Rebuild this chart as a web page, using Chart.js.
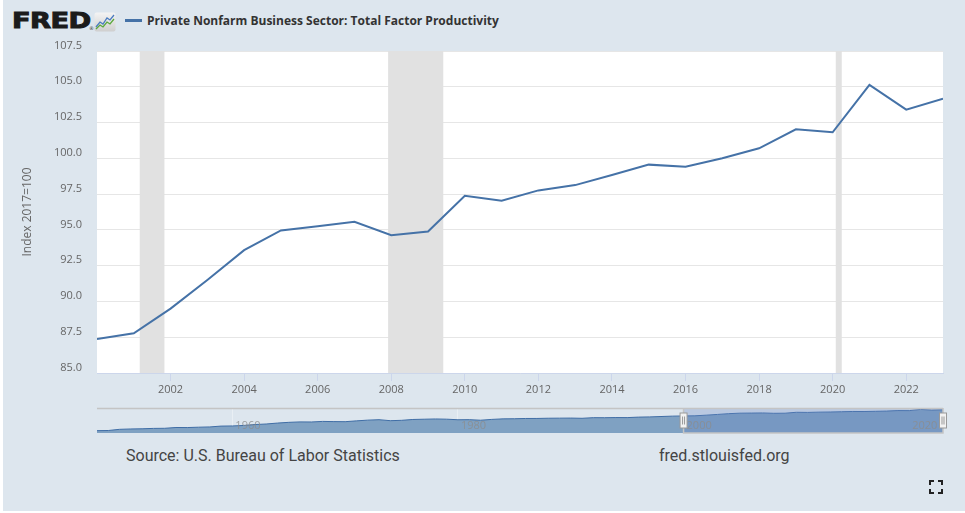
<!DOCTYPE html>
<html><head><meta charset="utf-8">
<script src="https://cdn.jsdelivr.net/npm/chart.js@4.4.0/dist/chart.umd.min.js"></script>
<style>
html,body{margin:0;padding:0;background:#fff;width:965px;height:513px;overflow:hidden;}
#bg{position:absolute;left:3px;top:0;width:962px;height:511px;background:#dde6ee;}
canvas{position:absolute;left:0;}
#main{top:0;}
#nav{top:400px;}
.txt{position:absolute;white-space:nowrap;}
#fred{left:12px;top:10px;font-family:"DejaVu Sans";font-weight:bold;font-size:22px;line-height:22px;color:#1b1b1b;-webkit-text-stroke:1px #1b1b1b;transform:scaleX(1.24);transform-origin:0 0;letter-spacing:-0.5px;}
#reg{left:89px;top:25px;font-family:"DejaVu Sans";font-size:5px;color:#333;}
#icon{position:absolute;left:94px;top:12px;}
#legline{position:absolute;left:125px;top:19px;width:17px;height:3px;background:#4572a7;}
#legtxt{left:147px;top:13px;font-family:"Open Sans";font-weight:bold;font-size:12px;line-height:16px;color:#333;}
#src{left:126px;top:446px;font-family:Roboto;font-size:16px;line-height:20px;color:#444;}
#site{left:659px;top:446px;font-family:Roboto;font-size:16px;line-height:20px;color:#444;}
#fs{position:absolute;left:929px;top:480px;}
</style></head>
<body>
<div id="bg"></div>
<div class="txt" id="fred">FRED</div>
<div class="txt" id="reg">®</div>
<svg id="icon" width="22" height="20" viewBox="0 0 22 20">
<defs><linearGradient id="g" x1="0" y1="0" x2="0" y2="1"><stop offset="0" stop-color="#f4f4f4"/><stop offset="1" stop-color="#cfcfcf"/></linearGradient></defs>
<rect x="0.5" y="0.5" width="21" height="19" rx="2" fill="url(#g)"/>
<polyline points="2,15 6,10 9,12 13,6 16,8 20,3" fill="none" stroke="#4a7cc0" stroke-width="1.3"/>
<polyline points="2,17 6,13 9,15 13,10 16,12 20,7" fill="none" stroke="#5aa83c" stroke-width="1.3"/>
</svg>
<div id="legline"></div>
<div class="txt" id="legtxt">Private Nonfarm Business Sector: Total Factor Productivity</div>
<canvas id="main" width="965" height="400"></canvas>
<canvas id="nav" width="965" height="40"></canvas>
<div class="txt" id="src">Source: U.S. Bureau of Labor Statistics</div>
<div class="txt" id="site">fred.stlouisfed.org</div>
<svg id="fs" width="14" height="14" viewBox="0 0 14 14">
<path d="M1,5 V1 H5 M9,1 H13 V5 M13,9 V13 H9 M5,13 H1 V9" fill="none" stroke="#222" stroke-width="2"/>
</svg>
<script>
// ---- data ----
const years = [2000,2001,2002,2003,2004,2005,2006,2007,2008,2009,2010,2011,2012,2013,2014,2015,2016,2017,2018,2019,2020,2021,2022,2023];
const tfp = [87.38,87.77,89.50,91.50,93.58,94.96,95.26,95.57,94.63,94.89,97.39,97.04,97.76,98.13,98.83,99.56,99.42,100.00,100.70,102.03,101.82,105.13,103.40,104.17];
const xTickYears = [2002,2004,2006,2008,2010,2012,2014,2016,2018,2020,2022];
const xTickLabels = ['2002','2004','2006','2008','2010','2012','2014','2016','2018','2020','2022'];
const yTickValues = [85,87.5,90,92.5,95,97.5,100,102.5,105,107.5];
const yTickLabels = ['85.0','87.5','90.0','92.5','95.0','97.5','100.0','102.5','105.0','107.5'];
const recessionStarts = [2001.162,2007.915,2020.085];
const recessionEnds = [2001.833,2009.414,2020.247];
const navHistYears = [1948,1949,1950,1951,1952,1953,1954,1955,1956,1957,1958,1959,1960,1961,1962,1963,1964,1965,1966,1967,1968,1969,1970,1971,1972,1973,1974,1975,1976,1977,1978,1979,1980,1981,1982,1983,1984,1985,1986,1987,1988,1989,1990,1991,1992,1993,1994,1995,1996,1997,1998,1999];
const navHistValues = [47.4,47.8,51.0,52.0,52.5,53.5,53.8,56.0,55.8,56.8,57.5,59.8,60.2,61.5,64.0,65.5,68.0,70.0,71.2,71.0,72.5,72.0,71.8,74.0,76.0,77.2,74.5,75.5,77.8,78.5,79.2,78.6,77.0,77.3,75.8,78.0,79.5,79.8,80.5,80.6,81.2,81.4,81.6,81.0,82.7,82.6,83.0,82.9,84.2,84.8,85.8,86.9];
const navTickYears = [1960,1980,2000,2020];
const navTickLabels = ['1960','1980','2000','2020'];
const selStart = 2000, selEnd = 2023;

// ---- main chart ----
const plotBg = {
  id:'plotBg',
  beforeDraw(c){
    const a=c.chartArea, ctx=c.ctx;
    ctx.save(); ctx.fillStyle='#ffffff';
    ctx.fillRect(a.left,a.top,a.right-a.left,a.bottom-a.top); ctx.restore();
  },
  beforeDatasetsDraw(c){
    const a=c.chartArea, ctx=c.ctx, xs=c.scales.x;
    ctx.save(); ctx.fillStyle='#e1e1e1';
    recessionStarts.forEach((s,i)=>{
      const x0=xs.getPixelForValue(s), x1=xs.getPixelForValue(recessionEnds[i]);
      ctx.fillRect(x0,a.top,x1-x0,a.bottom-a.top);
    });
    ctx.restore();
  }
};

new Chart(document.getElementById('main'), {
  type:'line',
  data:{datasets:[{data:years.map((y,i)=>({x:y,y:tfp[i]})),borderColor:'#4572a7',borderWidth:2,pointRadius:0,tension:0,fill:false}]},
  options:{
    responsive:false, animation:false, events:[],
    layout:{padding:{left:0,right:22,top:51,bottom:0}},
    plugins:{legend:{display:false},tooltip:{enabled:false}},
    scales:{
      x:{type:'linear',min:2000,max:2023,
        afterBuildTicks:s=>{s.ticks=xTickYears.map(v=>({value:v}));},
        afterFit:s=>{s.height=27;},
        ticks:{callback:(v,i)=>xTickLabels[i],font:{family:'Open Sans',size:11},color:'#666',padding:2,maxRotation:0,autoSkip:false},
        grid:{drawOnChartArea:false,drawTicks:true,tickLength:8,color:'#ccd6eb'},
        border:{display:true,color:'#ccd6eb'}},
      y:{min:85,max:107.5,
        afterBuildTicks:s=>{s.ticks=yTickValues.map(v=>({value:v}));},
        afterFit:s=>{s.width=97;},
        ticks:{callback:(v,i)=>yTickLabels[i],padding:15,labelOffset:-5.5,font:{family:'Open Sans',size:11},color:'#666'},
        grid:{color:'#e6e6e6',drawTicks:false},
        border:{display:false},
        title:{display:true,text:'Index 2017=100',font:{family:'Open Sans',size:12},color:'#666',padding:{top:20,bottom:0}}}
    }
  },
  plugins:[plotBg]
});

// ---- navigator ----
const navDeco = {
  id:'navDeco',
  afterDatasetsDraw(c){
    const a=c.chartArea, ctx=c.ctx, xs=c.scales.x;
    const x0=xs.getPixelForValue(selStart), x1=xs.getPixelForValue(selEnd);
    ctx.save();
    ctx.fillStyle='rgba(102,133,194,0.3)';
    ctx.fillRect(x0,a.top,x1-x0,a.bottom-a.top);
    ctx.restore();
  },
  afterDraw(c){
    const a=c.chartArea, ctx=c.ctx, xs=c.scales.x;
    const x0=xs.getPixelForValue(selStart), x1=xs.getPixelForValue(selEnd);
    ctx.save();
    // axis labels inside the navigator
    ctx.font='11px "Open Sans"'; ctx.fillStyle='rgba(140,140,140,0.8)';
    ctx.textAlign='left'; ctx.textBaseline='middle';
    navTickYears.forEach((v,i)=>{ ctx.fillText(navTickLabels[i], xs.getPixelForValue(v)+3, a.top+17.5); });
    // outline
    ctx.strokeStyle='#c4c4c4'; ctx.lineWidth=1.5;
    ctx.beginPath();
    ctx.moveTo(a.left,a.top+0.5); ctx.lineTo(a.right,a.top+0.5);
    ctx.moveTo(x0,a.top); ctx.lineTo(x0,a.bottom); ctx.lineTo(x1,a.bottom); ctx.lineTo(x1,a.top);
    ctx.stroke();
    const mid=(a.top+a.bottom)/2;
    [x0,x1].forEach(x=>{
      ctx.fillStyle='#f2f2f2'; ctx.strokeStyle='#999'; ctx.lineWidth=1;
      ctx.fillRect(x-3.5,mid-7.5,7,15);
      ctx.strokeRect(x-3.5,mid-7.5,7,15);
      ctx.beginPath();
      ctx.moveTo(x-1,mid-4); ctx.lineTo(x-1,mid+4);
      ctx.moveTo(x+1,mid-4); ctx.lineTo(x+1,mid+4);
      ctx.stroke();
    });
    ctx.restore();
  }
};

const navX = navHistYears.concat(years);
const navY = navHistValues.concat(tfp);
new Chart(document.getElementById('nav'), {
  type:'line',
  data:{datasets:[{data:navX.map((y,i)=>({x:y,y:navY[i]})),borderColor:'#3f6da5',borderWidth:1,backgroundColor:'#7fa1c2',fill:'start',pointRadius:0,tension:0}]},
  options:{
    responsive:false, animation:false, events:[],
    layout:{padding:{left:97,right:22,top:8,bottom:7}},
    plugins:{legend:{display:false},tooltip:{enabled:false}},
    scales:{
      x:{type:'linear',min:1948,max:2023,
        afterBuildTicks:s=>{s.ticks=navTickYears.map(v=>({value:v}));},
        afterFit:s=>{s.height=0;},
        ticks:{display:false},
        grid:{drawTicks:false,color:'rgba(255,255,255,0.35)'},
        border:{display:false}},
      y:{display:false,min:41,max:109}
    }
  },
  plugins:[navDeco]
});
</script>
</body></html>
